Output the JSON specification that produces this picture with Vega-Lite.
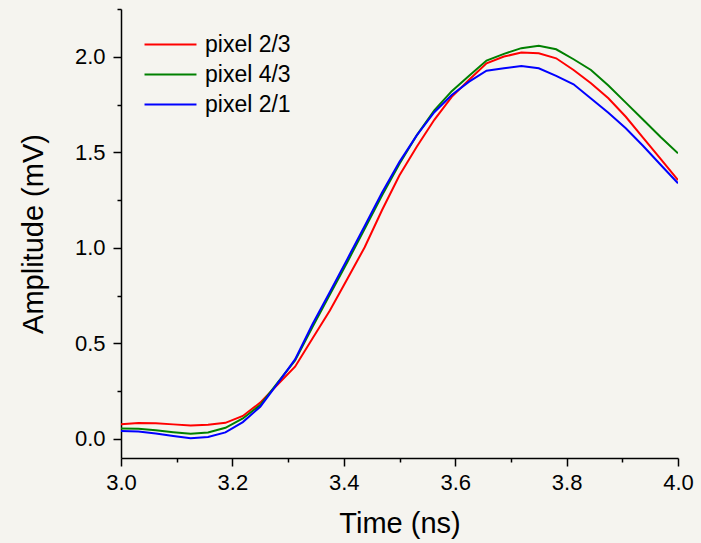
{
  "$schema": "https://vega.github.io/schema/vega-lite/v6.json",
  "width": 557,
  "height": 449,
  "autosize": {"type": "none"},
  "padding": {"left": 121, "top": 9, "right": 23, "bottom": 85},
  "background": "#f5f4ef",
  "config": {
    "view": {"stroke": null},
    "font": "Liberation Sans",
    "axis": {
      "domainColor": "#000000",
      "domainWidth": 1.5,
      "tickColor": "#000000",
      "tickWidth": 1.5,
      "labelColor": "#000000",
      "titleColor": "#000000",
      "labelFont": "Liberation Sans",
      "titleFont": "Liberation Sans",
      "labelFontSize": 22,
      "titleFontSize": 29,
      "titleFontWeight": "normal",
      "grid": false
    }
  },
  "data": {
    "values": [
      {"series": "pixel 2/3", "t": 3.0, "v": 0.076},
      {"series": "pixel 2/3", "t": 3.03125, "v": 0.083},
      {"series": "pixel 2/3", "t": 3.0625, "v": 0.082},
      {"series": "pixel 2/3", "t": 3.09375, "v": 0.076},
      {"series": "pixel 2/3", "t": 3.125, "v": 0.070},
      {"series": "pixel 2/3", "t": 3.15625, "v": 0.074},
      {"series": "pixel 2/3", "t": 3.1875, "v": 0.084},
      {"series": "pixel 2/3", "t": 3.21875, "v": 0.120},
      {"series": "pixel 2/3", "t": 3.25, "v": 0.190},
      {"series": "pixel 2/3", "t": 3.28125, "v": 0.285},
      {"series": "pixel 2/3", "t": 3.3125, "v": 0.378},
      {"series": "pixel 2/3", "t": 3.34375, "v": 0.525},
      {"series": "pixel 2/3", "t": 3.375, "v": 0.672},
      {"series": "pixel 2/3", "t": 3.40625, "v": 0.837},
      {"series": "pixel 2/3", "t": 3.4375, "v": 1.003},
      {"series": "pixel 2/3", "t": 3.46875, "v": 1.198},
      {"series": "pixel 2/3", "t": 3.5, "v": 1.380},
      {"series": "pixel 2/3", "t": 3.53125, "v": 1.530},
      {"series": "pixel 2/3", "t": 3.5625, "v": 1.670},
      {"series": "pixel 2/3", "t": 3.59375, "v": 1.790},
      {"series": "pixel 2/3", "t": 3.625, "v": 1.880},
      {"series": "pixel 2/3", "t": 3.65625, "v": 1.966},
      {"series": "pixel 2/3", "t": 3.6875, "v": 2.001},
      {"series": "pixel 2/3", "t": 3.71875, "v": 2.022},
      {"series": "pixel 2/3", "t": 3.75, "v": 2.018},
      {"series": "pixel 2/3", "t": 3.78125, "v": 1.992},
      {"series": "pixel 2/3", "t": 3.8125, "v": 1.931},
      {"series": "pixel 2/3", "t": 3.84375, "v": 1.861},
      {"series": "pixel 2/3", "t": 3.875, "v": 1.783},
      {"series": "pixel 2/3", "t": 3.90625, "v": 1.686},
      {"series": "pixel 2/3", "t": 3.9375, "v": 1.575},
      {"series": "pixel 2/3", "t": 3.96875, "v": 1.465},
      {"series": "pixel 2/3", "t": 4.0, "v": 1.355},
      {"series": "pixel 4/3", "t": 3.0, "v": 0.055},
      {"series": "pixel 4/3", "t": 3.03125, "v": 0.053},
      {"series": "pixel 4/3", "t": 3.0625, "v": 0.045},
      {"series": "pixel 4/3", "t": 3.09375, "v": 0.035},
      {"series": "pixel 4/3", "t": 3.125, "v": 0.027},
      {"series": "pixel 4/3", "t": 3.15625, "v": 0.034},
      {"series": "pixel 4/3", "t": 3.1875, "v": 0.058},
      {"series": "pixel 4/3", "t": 3.21875, "v": 0.107},
      {"series": "pixel 4/3", "t": 3.25, "v": 0.177},
      {"series": "pixel 4/3", "t": 3.28125, "v": 0.295},
      {"series": "pixel 4/3", "t": 3.3125, "v": 0.410},
      {"series": "pixel 4/3", "t": 3.34375, "v": 0.585},
      {"series": "pixel 4/3", "t": 3.375, "v": 0.755},
      {"series": "pixel 4/3", "t": 3.40625, "v": 0.925},
      {"series": "pixel 4/3", "t": 3.4375, "v": 1.100},
      {"series": "pixel 4/3", "t": 3.46875, "v": 1.275},
      {"series": "pixel 4/3", "t": 3.5, "v": 1.440},
      {"series": "pixel 4/3", "t": 3.53125, "v": 1.590},
      {"series": "pixel 4/3", "t": 3.5625, "v": 1.720},
      {"series": "pixel 4/3", "t": 3.59375, "v": 1.820},
      {"series": "pixel 4/3", "t": 3.625, "v": 1.900},
      {"series": "pixel 4/3", "t": 3.65625, "v": 1.980},
      {"series": "pixel 4/3", "t": 3.6875, "v": 2.015},
      {"series": "pixel 4/3", "t": 3.71875, "v": 2.045},
      {"series": "pixel 4/3", "t": 3.75, "v": 2.058},
      {"series": "pixel 4/3", "t": 3.78125, "v": 2.039},
      {"series": "pixel 4/3", "t": 3.8125, "v": 1.987},
      {"series": "pixel 4/3", "t": 3.84375, "v": 1.931},
      {"series": "pixel 4/3", "t": 3.875, "v": 1.850},
      {"series": "pixel 4/3", "t": 3.90625, "v": 1.760},
      {"series": "pixel 4/3", "t": 3.9375, "v": 1.670},
      {"series": "pixel 4/3", "t": 3.96875, "v": 1.580},
      {"series": "pixel 4/3", "t": 4.0, "v": 1.495},
      {"series": "pixel 2/1", "t": 3.0, "v": 0.041},
      {"series": "pixel 2/1", "t": 3.03125, "v": 0.039},
      {"series": "pixel 2/1", "t": 3.0625, "v": 0.028},
      {"series": "pixel 2/1", "t": 3.09375, "v": 0.015},
      {"series": "pixel 2/1", "t": 3.125, "v": 0.003},
      {"series": "pixel 2/1", "t": 3.15625, "v": 0.010},
      {"series": "pixel 2/1", "t": 3.1875, "v": 0.034},
      {"series": "pixel 2/1", "t": 3.21875, "v": 0.088},
      {"series": "pixel 2/1", "t": 3.25, "v": 0.168},
      {"series": "pixel 2/1", "t": 3.28125, "v": 0.291},
      {"series": "pixel 2/1", "t": 3.3125, "v": 0.416},
      {"series": "pixel 2/1", "t": 3.34375, "v": 0.600},
      {"series": "pixel 2/1", "t": 3.375, "v": 0.769},
      {"series": "pixel 2/1", "t": 3.40625, "v": 0.941},
      {"series": "pixel 2/1", "t": 3.4375, "v": 1.114},
      {"series": "pixel 2/1", "t": 3.46875, "v": 1.290},
      {"series": "pixel 2/1", "t": 3.5, "v": 1.450},
      {"series": "pixel 2/1", "t": 3.53125, "v": 1.590},
      {"series": "pixel 2/1", "t": 3.5625, "v": 1.710},
      {"series": "pixel 2/1", "t": 3.59375, "v": 1.800},
      {"series": "pixel 2/1", "t": 3.625, "v": 1.870},
      {"series": "pixel 2/1", "t": 3.65625, "v": 1.927},
      {"series": "pixel 2/1", "t": 3.6875, "v": 1.940},
      {"series": "pixel 2/1", "t": 3.71875, "v": 1.952},
      {"series": "pixel 2/1", "t": 3.75, "v": 1.940},
      {"series": "pixel 2/1", "t": 3.78125, "v": 1.900},
      {"series": "pixel 2/1", "t": 3.8125, "v": 1.856},
      {"series": "pixel 2/1", "t": 3.84375, "v": 1.782},
      {"series": "pixel 2/1", "t": 3.875, "v": 1.707},
      {"series": "pixel 2/1", "t": 3.90625, "v": 1.626},
      {"series": "pixel 2/1", "t": 3.9375, "v": 1.533},
      {"series": "pixel 2/1", "t": 3.96875, "v": 1.435},
      {"series": "pixel 2/1", "t": 4.0, "v": 1.338}
    ]
  },
  "mark": {"type": "line", "strokeWidth": 2, "clip": true},
  "encoding": {
    "x": {
      "field": "t",
      "type": "quantitative",
      "scale": {"domain": [3.0, 4.0], "nice": false, "zero": false},
      "axis": {
        "title": "Time (ns)",
        "values": [3.0, 3.1, 3.2, 3.3, 3.4, 3.5, 3.6, 3.7, 3.8, 3.9, 4.0],
        "labelExpr": "round(datum.value * 10) % 2 === 0 ? format(datum.value, '.1f') : ''",
        "tickSize": {"condition": {"test": "round(datum.value * 10) % 2 === 0", "value": 8}, "value": 4},
        "labelPadding": 6,
        "labelFlush": false,
        "labelOverlap": false,
        "titlePadding": 16
      }
    },
    "y": {
      "field": "v",
      "type": "quantitative",
      "scale": {"domain": [-0.1, 2.25], "nice": false, "zero": false},
      "axis": {
        "title": "Amplitude (mV)",
        "values": [0, 0.25, 0.5, 0.75, 1.0, 1.25, 1.5, 1.75, 2.0, 2.25],
        "labelExpr": "round(datum.value * 4) % 2 === 0 ? format(datum.value, '.1f') : ''",
        "tickSize": {"condition": {"test": "round(datum.value * 4) % 2 === 0", "value": 8}, "value": 4},
        "labelPadding": 8,
        "labelFlush": false,
        "labelOverlap": false,
        "titlePadding": 26
      }
    },
    "color": {
      "field": "series",
      "type": "nominal",
      "scale": {
        "domain": ["pixel 2/3", "pixel 4/3", "pixel 2/1"],
        "range": ["#ff0000", "#008000", "#0000ff"]
      },
      "legend": {
        "title": null,
        "orient": "none",
        "legendX": 38,
        "legendY": 24,
        "symbolType": "M-5,0H5",
        "symbolSize": 108,
        "symbolStrokeWidth": 2,
        "symbolFillColor": "transparent",
        "labelFont": "Liberation Sans",
        "labelFontSize": 23,
        "labelColor": "#000000",
        "labelOffset": 23,
        "rowPadding": 6,
        "padding": 0
      }
    }
  }
}
